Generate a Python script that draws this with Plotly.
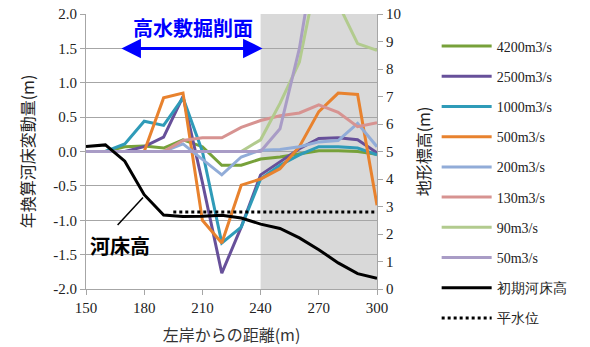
import plotly.graph_objects as go

# Cross-section distance from the left bank (m)
dist = [150, 160, 170, 180, 190, 200, 210, 220, 230, 240, 250, 260, 270, 280, 290, 300]

# Annualised bed change (m) for each discharge
q4200 = [0, 0, 0.07, 0.08, 0.05, 0.17, 0.07, -0.20, -0.20, -0.11, -0.08, -0.03, 0.01, 0.01, 0.00, -0.04]
q2500 = [0, 0, 0, 0.07, 0.21, 0.80, -0.45, -1.77, -1.10, -0.34, -0.15, 0.04, 0.19, 0.20, 0.17, -0.02]
q1000 = [0, 0, 0.11, 0.44, 0.38, 0.78, 0.00, -1.33, -1.10, -0.40, -0.20, -0.05, 0.07, 0.07, 0.05, -0.05]
q500 = [0, 0, 0, 0, 0.78, 0.85, -1.00, -1.33, -0.49, -0.40, -0.25, 0.07, 0.58, 0.85, 0.83, -0.78]
q200 = [0, 0, 0, 0, 0, 0.11, -0.12, -0.34, -0.08, 0.02, 0.03, 0.07, 0.14, 0.16, 0.41, 0.07]
q130 = [0, 0, 0, 0, 0, 0.16, 0.20, 0.20, 0.35, 0.45, 0.52, 0.56, 0.68, 0.57, 0.36, 0.42]
q90 = [0, 0, 0, 0, 0, 0, 0, 0, 0, 0.17, 0.70, 1.30, 2.70, 2.15, 1.57, 1.47]
q50 = [0, 0, 0, 0, 0, 0, 0, 0, 0, 0, 0.33, 1.50, 3.20, 3.60, 3.40, 3.00]

series_names = ["4200m3/s", "2500m3/s", "1000m3/s", "500m3/s",
                "200m3/s", "130m3/s", "90m3/s", "50m3/s"]
series_values = [q4200, q2500, q1000, q500, q200, q130, q90, q50]
series_colors = ["#77a13a", "#67509a", "#2f9bb8", "#e8822e",
                 "#91acd8", "#d79391", "#b2cb8e", "#a99cc6"]

# Initial bed elevation and normal water level (m, right axis)
bed_elev = [5.18, 5.24, 4.65, 3.43, 2.69, 2.64, 2.65, 2.68, 2.58, 2.36, 2.20, 1.86, 1.43, 0.95, 0.56, 0.39]
wl_x = [195, 300]
wl_level = [2.8, 2.8]

# Tick labels
x_ticks = [150, 180, 210, 240, 270, 300]
y_ticks = [2.0, 1.5, 1.0, 0.5, 0.0, -0.5, -1.0, -1.5, -2.0]
y_ticktext = ["2.0", "1.5", "1.0", "0.5", "0.0", "-0.5", "-1.0", "-1.5", "-2.0"]
y2_ticks = list(range(0, 11))

SERIF = "Liberation Serif, Times New Roman, Times, DejaVu Serif, serif"
GOTHIC = "Noto Sans CJK JP"
AXIS_GRAY = "#a6a6a6"

fig = go.Figure()

for name, vals, color in zip(series_names, series_values, series_colors):
    fig.add_trace(go.Scatter(
        x=dist, y=vals, mode="lines", name=name, legendgroup=name,
        line=dict(color=color, width=3),
    ))

fig.add_trace(go.Scatter(
    x=dist, y=bed_elev, mode="lines", name="初期河床高", legendgroup="bed",
    line=dict(color="black", width=3), yaxis="y2",
))
fig.add_trace(go.Scatter(
    x=wl_x, y=wl_level, mode="lines", name="平水位", legendgroup="wl",
    line=dict(color="black", width=3, dash="dot"), yaxis="y2",
))

# Shaded area of the high-water channel
fig.add_shape(type="rect", xref="x", yref="y", x0=240, x1=300, y0=-2, y1=2,
              fillcolor="#d9d9d9", line=dict(width=0), layer="below")

# Excavated floodplain span arrow and label
fig.add_annotation(x=241, y=1.5, ax=167.5, ay=1.5, xref="x", yref="y",
                   axref="x", ayref="y", text="", showarrow=True,
                   arrowside="end+start", arrowhead=2, startarrowhead=2,
                   arrowsize=1.3, startarrowsize=1.3, arrowwidth=3,
                   arrowcolor="#0000ff")
fig.add_annotation(x=205.4, y=1.8, xref="x", yref="y", text="高水敷掘削面",
                   showarrow=False,
                   font=dict(family=GOTHIC, size=20, color="#0000ff", weight="bold"))

# Bed elevation label with leader line
fig.add_shape(type="line", xref="x", yref="y", x0=166.3, y0=-1.07, x1=179.4, y1=-0.67,
              line=dict(color="black", width=1.5))
fig.add_annotation(x=167.5, y=-1.36, xref="x", yref="y", text="河床高",
                   showarrow=False,
                   font=dict(family=GOTHIC, size=20, color="black", weight="bold"))

fig.update_layout(
    width=590, height=347,
    margin=dict(l=86, r=213, t=14, b=58, autoexpand=False),
    paper_bgcolor="white", plot_bgcolor="white",
    font=dict(family=SERIF, size=15, color="#222222"),
    showlegend=True,
    legend=dict(x=1.205, y=0.94, xanchor="left", yanchor="top",
                font=dict(family=SERIF, size=14, color="#222222"),
                tracegroupgap=9, itemwidth=50, maxheight=340,
                bgcolor="rgba(0,0,0,0)"),
    xaxis=dict(range=[150, 300], tickvals=x_ticks, showgrid=False, zeroline=False,
               showline=True, linecolor=AXIS_GRAY, linewidth=1,
               ticks="outside", ticklen=5, tickcolor=AXIS_GRAY,
               tickfont=dict(family=SERIF, size=15),
               title=dict(text="左岸からの距離(m)", standoff=14,
                          font=dict(family=GOTHIC, size=16, color="#333333"))),
    yaxis=dict(range=[-2, 2], tickvals=y_ticks, ticktext=y_ticktext,
               showgrid=True, gridcolor=AXIS_GRAY, gridwidth=1, zeroline=False,
               showline=True, linecolor=AXIS_GRAY, linewidth=1,
               ticks="outside", ticklen=5, tickcolor=AXIS_GRAY,
               tickfont=dict(family=SERIF, size=15),
               title=dict(text="年換算河床変動量(m)", standoff=14,
                          font=dict(family=GOTHIC, size=16, color="#222222"))),
    yaxis2=dict(range=[0, 10], tickvals=y2_ticks, overlaying="y", side="right",
                showgrid=False, zeroline=False,
                showline=True, linecolor=AXIS_GRAY, linewidth=1,
                ticks="outside", ticklen=5, tickcolor=AXIS_GRAY,
                tickfont=dict(family=SERIF, size=15),
                title=dict(text="地形標高(m)", standoff=18,
                           font=dict(family=GOTHIC, size=16, color="#222222"))),
)

fig.write_html("out.html")
